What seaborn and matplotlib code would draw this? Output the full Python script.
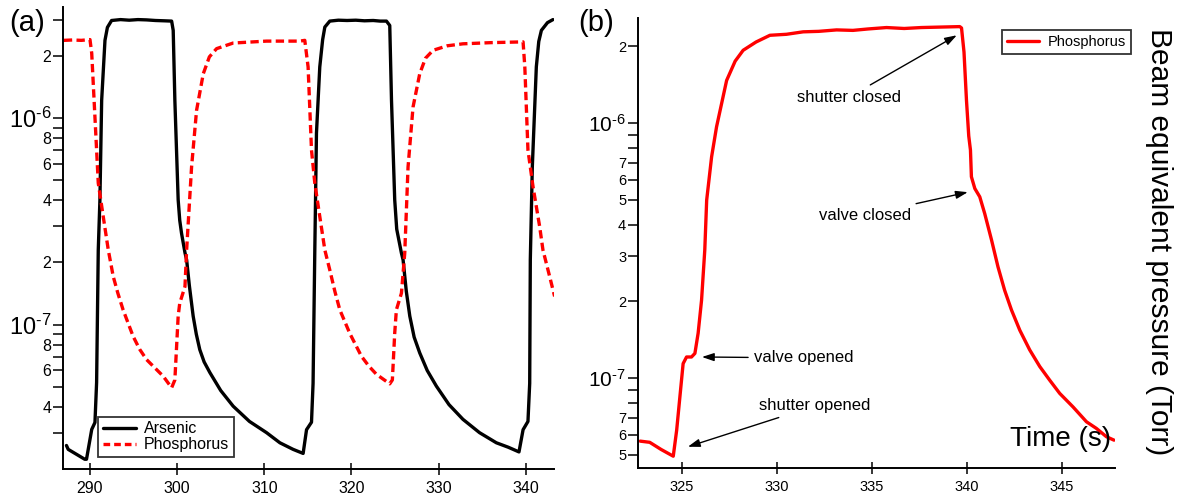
import matplotlib
matplotlib.use("Agg")
import matplotlib.pyplot as plt
import numpy as np
import pandas as pd
import seaborn as sns

# ---- panel (a): alternating arsenic / phosphorus beams ----
as_time = [287.3, 287.5, 288.5, 289.4, 289.6, 290.2, 290.57, 290.76, 290.95, 291.14, 291.34,
           291.72, 292.0, 292.48, 293.5, 294.5, 295.5, 296.5, 297.5, 298.5, 299.37, 299.55,
           299.74, 300.12, 300.3, 300.5, 300.9, 301.09, 301.4, 301.84, 302.2, 302.6, 303.1,
           303.76, 305.0, 306.43, 308.3, 310.26, 311.79, 313.31, 314.46, 314.85, 315.42, 315.6,
           315.8, 315.99, 316.37, 316.7, 316.95, 317.52, 318.5, 319.5, 320.5, 321.5, 322.5,
           323.3, 324.02, 324.4, 324.6, 324.97, 325.2, 325.74, 325.93, 326.3, 326.7, 327.2,
           327.84, 328.7, 329.75, 331.2, 332.8, 334.7, 336.63, 338.0, 339.23, 339.7, 340.26,
           340.46, 340.53, 340.76, 341.22, 341.5, 341.8, 342.5, 343.13]
as_bep = [2.6e-8, 2.49e-8, 2.35e-8, 2.23e-8, 2.23e-8, 3.11e-8, 3.36e-8, 5.25e-8, 2.3e-7, 4.02e-7,
          1.22e-6, 2.38e-6, 2.75e-6, 2.97e-6, 3.0e-6, 2.98e-6, 3.0e-6, 2.99e-6, 2.97e-6, 2.96e-6,
          2.95e-6, 2.66e-6, 1.22e-6, 4.02e-7, 3.2e-7, 2.78e-7, 2.23e-7, 2.06e-7, 1.55e-7, 1.1e-7,
          9.0e-8, 7.57e-8, 6.6e-8, 5.86e-8, 4.8e-8, 4.03e-8, 3.4e-8, 3.0e-8, 2.68e-8, 2.49e-8,
          2.38e-8, 3.1e-8, 3.37e-8, 5.2e-8, 2.3e-7, 8.46e-7, 1.77e-6, 2.4e-6, 2.76e-6, 2.95e-6,
          2.98e-6, 2.97e-6, 2.98e-6, 2.96e-6, 2.97e-6, 2.95e-6, 2.95e-6, 2.81e-6, 1.22e-6,
          4.02e-7, 2.9e-7, 2.22e-7, 2.06e-7, 1.45e-7, 1.1e-7, 8.7e-8, 7.3e-8, 6.0e-8, 5.04e-8,
          4.1e-8, 3.48e-8, 3.0e-8, 2.68e-8, 2.55e-8, 2.42e-8, 3.1e-8, 3.4e-8, 5.2e-8, 2.06e-7,
          5.8e-7, 1.77e-6, 2.35e-6, 2.66e-6, 2.9e-6, 3.0e-6]

p_time = [287.0, 288.0, 289.0, 290.0, 290.2, 290.57, 290.95, 291.52, 292.1, 292.67, 293.2,
          293.8, 294.95, 295.7, 296.5, 298.4, 299.37, 299.74, 300.12, 300.3, 300.9, 301.09,
          301.66, 302.23, 303.0, 303.7, 304.53, 306.43, 310.26, 314.08, 314.65, 315.03, 315.42,
          315.8, 316.37, 316.95, 317.52, 318.1, 318.67, 319.81, 321.15, 322.0, 322.87, 324.4,
          324.7, 324.97, 325.16, 325.74, 326.12, 326.5, 327.07, 327.84, 328.5, 329.37, 331.0,
          332.8, 336.0, 339.7, 339.9, 340.26, 340.84, 341.6, 341.98, 342.75, 343.32]
p_bep = [2.38e-6, 2.39e-6, 2.38e-6, 2.4e-6, 2.06e-6, 1.01e-6, 4.85e-7, 3.34e-7, 2.3e-7, 1.71e-7,
         1.42e-7, 1.18e-7, 8.78e-8, 7.6e-8, 6.77e-8, 5.63e-8, 4.95e-8, 5.4e-8, 1.1e-7, 1.27e-7,
         1.53e-7, 2.3e-7, 5.82e-7, 1.09e-6, 1.64e-6, 1.98e-6, 2.17e-6, 2.31e-6, 2.36e-6,
         2.36e-6, 2.38e-6, 1.77e-6, 7.0e-7, 4.84e-7, 3.34e-7, 2.3e-7, 1.84e-7, 1.45e-7, 1.18e-7,
         9.08e-8, 7.03e-8, 6.3e-8, 5.75e-8, 5.17e-8, 5.4e-8, 9.1e-8, 1.18e-7, 1.42e-7, 2.22e-7,
         5.8e-7, 1.13e-6, 1.64e-6, 1.95e-6, 2.13e-6, 2.24e-6, 2.29e-6, 2.32e-6, 2.34e-6, 1.77e-6,
         7.0e-7, 4.66e-7, 2.99e-7, 2.3e-7, 1.71e-7, 1.37e-7]

# ---- panel (b): single phosphorus pulse ----
pb_time = [322.8, 323.3, 323.9, 324.54, 324.72, 324.89, 325.06, 325.24, 325.5, 325.68, 325.85,
           326.03, 326.2, 326.3, 326.56, 326.82, 327.35, 327.8, 328.22, 328.9, 329.63, 330.5,
           331.38, 332.2, 333.14, 334.0, 334.8, 335.77, 336.7, 337.6, 338.6, 339.63, 339.72,
           339.85, 339.98, 340.1, 340.19, 340.24, 340.42, 340.68, 340.94, 341.3, 341.64, 341.99,
           342.35, 342.79, 343.31, 343.84, 344.36, 344.89, 345.59, 346.3, 346.82, 347.35, 347.75]
pb_bep = [5.66e-8, 5.6e-8, 5.25e-8, 4.94e-8, 6.25e-8, 8.45e-8, 1.14e-7, 1.21e-7, 1.21e-7, 1.25e-7,
          1.5e-7, 2.02e-7, 3.18e-7, 4.99e-7, 7.38e-7, 9.67e-7, 1.47e-6, 1.75e-6, 1.93e-6, 2.08e-6,
          2.21e-6, 2.23e-6, 2.28e-6, 2.29e-6, 2.32e-6, 2.31e-6, 2.34e-6, 2.37e-6, 2.35e-6, 2.37e-6,
          2.38e-6, 2.39e-6, 2.36e-6, 1.9e-6, 1.23e-6, 8.9e-7, 7.84e-7, 6.16e-7, 5.54e-7, 5.14e-7,
          4.42e-7, 3.48e-7, 2.73e-7, 2.21e-7, 1.85e-7, 1.54e-7, 1.29e-7, 1.11e-7, 9.82e-8,
          8.71e-8, 7.71e-8, 6.74e-8, 6.35e-8, 5.89e-8, 5.71e-8]

# tick values and their labels
a_xticks = [290, 300, 310, 320, 330, 340]
a_yticks = [3e-8, 4e-8, 5e-8, 6e-8, 7e-8, 8e-8, 9e-8, 1e-7, 2e-7, 3e-7, 4e-7, 5e-7, 6e-7,
            7e-7, 8e-7, 9e-7, 1e-6, 2e-6, 3e-6]
a_ylabels = ["", "4", "", "6", "", "8", "", r"$10^{\text{-7}}$", "2", "", "4", "", "6", "",
             "8", "", r"$10^{\text{-6}}$", "2", ""]
b_xticks = [325, 330, 335, 340, 345]
b_yticks = [5e-8, 6e-8, 7e-8, 8e-8, 9e-8, 1e-7, 2e-7, 3e-7, 4e-7, 5e-7, 6e-7, 7e-7, 8e-7,
            9e-7, 1e-6, 2e-6]
b_ylabels = ["5", "6", "7", "", "", r"$10^{\text{-7}}$", "2", "3", "4", "5", "6", "7", "", "",
             r"$10^{\text{-6}}$", "2"]

sns.set_theme(style="ticks")
plt.rcParams["font.family"] = ["Liberation Sans", "DejaVu Sans"]
plt.rcParams["mathtext.fontset"] = "custom"
plt.rcParams["mathtext.rm"] = "Liberation Sans"
plt.rcParams["mathtext.it"] = "Liberation Sans:italic"
plt.rcParams["mathtext.bf"] = "Liberation Sans:bold"
for key in ("text.color", "axes.labelcolor", "xtick.color", "ytick.color",
            "axes.edgecolor"):
    plt.rcParams[key] = "black"

fig = plt.figure(figsize=(11.77, 5.04), dpi=100)
ax_a = fig.add_axes([0.0535, 0.0694, 0.4172, 0.9166])
ax_b = fig.add_axes([0.542, 0.0714, 0.4053, 0.8926])

df_as = pd.DataFrame({"t": as_time, "p": as_bep})
df_p = pd.DataFrame({"t": p_time, "p": p_bep})
df_pb = pd.DataFrame({"t": pb_time, "p": pb_bep})

sns.lineplot(data=df_as, x="t", y="p", ax=ax_a, color="black", lw=2.4,
             estimator=None, label="Arsenic")
sns.lineplot(data=df_p, x="t", y="p", ax=ax_a, color="#ff0000", lw=2.4,
             estimator=None, label="Phosphorus", dashes=False)
ax_a.lines[-1].set_dashes([2.5, 1.3])
ax_a.lines[-1].set_dash_capstyle("butt")

sns.lineplot(data=df_pb, x="t", y="p", ax=ax_b, color="#ff0000", lw=2.4,
             estimator=None, label="Phosphorus")


def style_axes(ax, xlim, ylim, xticks, yticks, ylabels, tick_fs, dec_fs):
    ax.set_yscale("log")
    ax.set_xlim(*xlim)
    ax.set_ylim(*ylim)
    ax.set_xticks(xticks)
    ax.set_xticklabels([str(v) for v in xticks], fontsize=tick_fs)
    ax.set_yticks(yticks)
    ax.set_yticks([], minor=True)
    ax.set_yticklabels(ylabels, fontsize=tick_fs)
    for lab in ax.get_yticklabels():
        if "10" in lab.get_text():
            lab.set_fontsize(dec_fs)
    ax.set_xlabel("")
    ax.set_ylabel("")
    for side in ("top", "right"):
        ax.spines[side].set_visible(False)
    for side in ("left", "bottom"):
        ax.spines[side].set_linewidth(1.4)
        ax.spines[side].set_color("black")
    ax.tick_params(axis="y", which="major", direction="out", length=7, width=1.1,
                   pad=1.5, colors="black")
    ax.tick_params(axis="x", which="major", direction="inout", length=9, width=1.1,
                   pad=4, colors="black")
    ax.set_facecolor("white")


style_axes(ax_a, (286.9, 343.25), (2.0e-8, 3.45e-6), a_xticks, a_yticks, a_ylabels, 11.5, 17)
style_axes(ax_b, (322.68, 347.8), (4.44e-8, 2.58e-6), b_xticks, b_yticks, b_ylabels, 10.5, 15)

leg_a = ax_a.legend(loc="lower left", bbox_to_anchor=(0.071, 0.026), borderaxespad=0,
                    fontsize=11.5, frameon=True, fancybox=False, handlelength=2.1,
                    labelspacing=0.05, borderpad=0.3, handletextpad=0.5)
leg_a.get_frame().set_edgecolor("black")
leg_a.get_frame().set_linewidth(1.3)
leg_a.get_lines()[1].set_dashes([2.0, 1.2])

leg_b = ax_b.legend(loc="upper right", bbox_to_anchor=(0.961, 0.940),
                    bbox_transform=fig.transFigure, borderaxespad=0,
                    fontsize=10.5, frameon=True, fancybox=False, handlelength=2.2,
                    borderpad=0.35, handletextpad=0.6)
leg_b.get_frame().set_edgecolor("black")
leg_b.get_frame().set_linewidth(1.3)

# annotations on panel (b)
arrow = dict(arrowstyle="-|>,head_length=0.6,head_width=0.2", color="black", lw=1.0,
             shrinkA=2, shrinkB=0)
notes = [("shutter closed", (339.47, 2.21e-6), (333.8, 1.265e-6)),
         ("valve closed", (340.05, 5.36e-7), (334.63, 4.36e-7)),
         ("valve opened", (326.05, 1.21e-7), (331.42, 1.2e-7)),
         ("shutter opened", (325.31, 5.38e-8), (332.0, 7.78e-8))]
for text, tip, pos in notes:
    ax_b.annotate(text, xy=tip, xytext=pos, fontsize=12, ha="center", va="center",
                  arrowprops=arrow)

ax_b.text(0.885, 0.035, "Time (s)", transform=ax_b.transAxes, fontsize=20,
          ha="center", va="bottom")
fig.text(0.985, 0.52, "Beam equivalent pressure (Torr)", rotation=270, fontsize=21.5,
         ha="center", va="center")
fig.text(0.008, 0.955, "(a)", fontsize=21, ha="left", va="center")
fig.text(0.491, 0.955, "(b)", fontsize=21, ha="left", va="center")

fig.savefig("out.png", dpi=100, facecolor="white")
